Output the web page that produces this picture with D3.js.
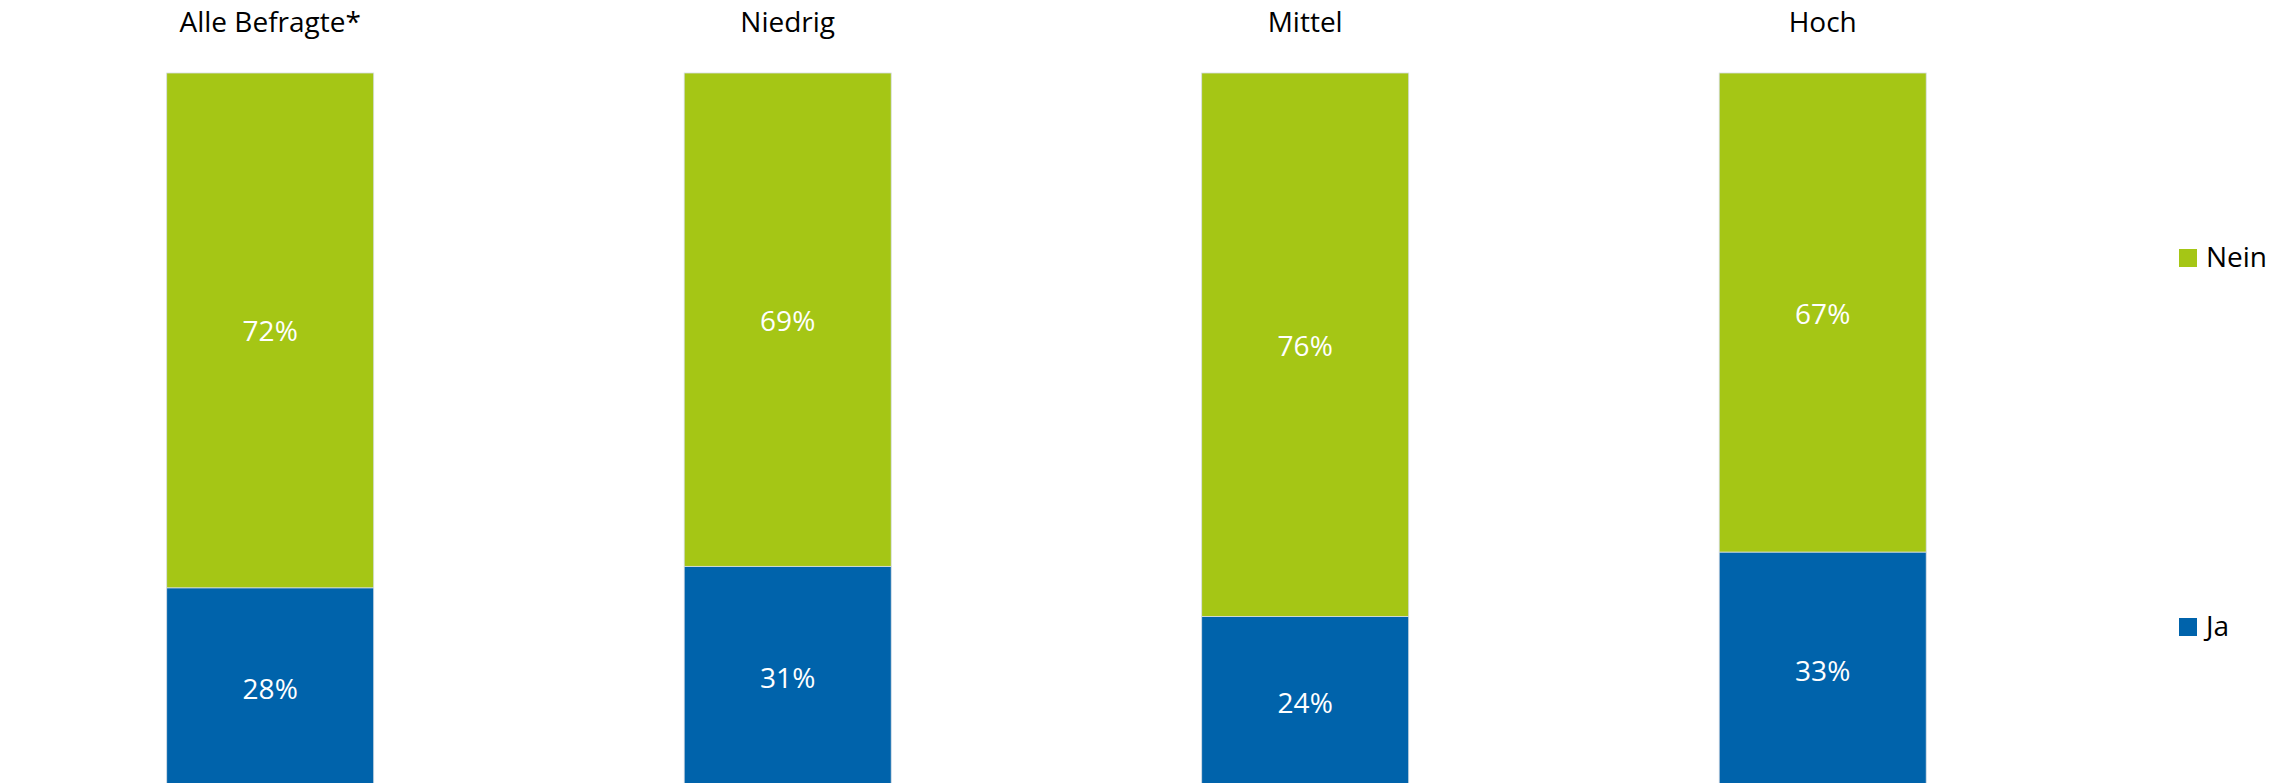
<!DOCTYPE html>
<html>
<head>
<meta charset="utf-8">
<script src="https://cdn.jsdelivr.net/npm/d3@7"></script>
<style>
  html, body { margin: 0; padding: 0; background: #fff; }
  svg { display: block; }
  text { font-family: "Open Sans", "Noto Sans", sans-serif; }
</style>
</head>
<body>
<svg id="chart" width="2288" height="783"></svg>
<script>
const categories = ["Alle Befragte*", "Niedrig", "Mittel", "Hoch"];
const seriesNames = ["Ja", "Nein"];
const jaValues = [28, 31, 24, 33];
const neinValues = [72, 69, 76, 67];
const colors = { "Ja": "#0063AB", "Nein": "#A5C615" };

const data = categories.map((c, i) => ({ cat: c, Ja: jaValues[i], Nein: neinValues[i] }));

const svg = d3.select("#chart");
const x = d3.scaleBand().domain(categories).range([166.7, 1926.2]).paddingInner(0.6).paddingOuter(0);
const y = d3.scaleLinear().domain([0, 100]).range([788, 73]);

const stack = d3.stack().keys(seriesNames);
const layers = stack(data);

const g = svg.append("g");
layers.forEach(layer => {
  const key = layer.key;
  g.selectAll(null).data(layer).enter().append("rect")
    .attr("x", d => x(d.data.cat))
    .attr("width", x.bandwidth())
    .attr("y", d => y(d[1]))
    .attr("height", d => y(d[0]) - y(d[1]))
    .attr("fill", colors[key])
    .attr("stroke", "#d6dde4")
    .attr("stroke-width", 0.8);
  g.selectAll(null).data(layer).enter().append("text")
    .attr("x", d => x(d.data.cat) + x.bandwidth() / 2)
    .attr("y", d => (y(d[0]) + y(d[1])) / 2)
    .attr("text-anchor", "middle")
    .attr("dominant-baseline", "central")
    .attr("fill", "#ffffff")
    .attr("font-size", 28)
    .text(d => d.data[key] + "%");
});

// category labels
svg.selectAll(".cat").data(categories).enter().append("text")
  .attr("x", d => x(d) + x.bandwidth() / 2)
  .attr("y", 32)
  .attr("text-anchor", "middle")
  .attr("fill", "#000")
  .attr("font-size", 28)
  .text(d => d);

// legend
const legendItems = [{ name: "Nein", y: 249 }, { name: "Ja", y: 618 }];
const lg = svg.selectAll(".leg").data(legendItems).enter().append("g");
lg.append("rect")
  .attr("x", 2179).attr("y", d => d.y)
  .attr("width", 18).attr("height", 18)
  .attr("fill", d => colors[d.name]);
lg.append("text")
  .attr("x", 2206).attr("y", d => d.y + 18)
  .attr("fill", "#000")
  .attr("font-size", 28)
  .text(d => d.name);
</script>
</body>
</html>
